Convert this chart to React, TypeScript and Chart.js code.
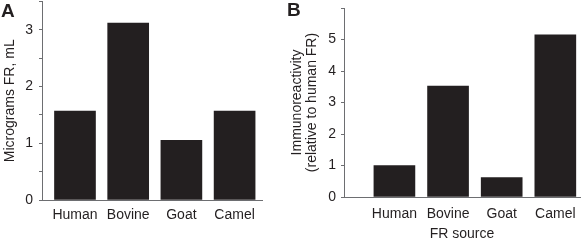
import React, { useEffect, useRef } from 'react';
import { Chart, registerables } from 'chart.js';

Chart.register(...registerables);

const categories = ['Human', 'Bovine', 'Goat', 'Camel'];
const amountA = [1.57, 3.12, 1.05, 1.57];
const immunoB = [1.0, 3.52, 0.62, 5.15];
const yTicksA = [0, 0.5, 1, 1.5, 2, 2.5, 3, 3.5];
const yLabelsA = ['0', '', '1', '', '2', '', '3', ''];
const yTicksB = [0, 1, 2, 3, 4, 5, 6];
const yLabelsB = ['0', '1', '2', '3', '4', '5', ''];

const FONT = "'Liberation Sans', Arial, Helvetica, sans-serif";
const INK = '#231f20';
const AXIS = '#6d6e71';

type PanelOpts = {
  values: number[];
  yTicks: number[];
  yLabels: string[];
  yTitle: string | string[];
  yTitlePadTop: number;
  yTitleLineHeight: number;
  xTitle?: string;
  yWidth: number;
  xHeight: number;
  padTop: number;
  padRight: number;
  xMin: number;
  xMax: number;
  yMax: number;
  yTickPad: number;
  xTickPad: number;
};

function makeConfig(o: PanelOpts): any {
  return {
    type: 'bar',
    data: {
      datasets: [
        {
          data: o.values.map((v, i) => ({ x: i, y: v })),
          backgroundColor: INK,
          borderWidth: 0,
          barThickness: 41,
        },
      ],
    },
    options: {
      animation: false,
      responsive: false,
      devicePixelRatio: 1,
      layout: { padding: { top: o.padTop, right: o.padRight, left: 0, bottom: 0 } },
      plugins: { legend: { display: false }, tooltip: { enabled: false } },
      scales: {
        x: {
          type: 'linear',
          offset: false,
          min: o.xMin,
          max: o.xMax,
          afterBuildTicks: (s: any) => {
            s.ticks = categories.map((_, i) => ({ value: i }));
          },
          afterFit: (s: any) => {
            s.height = o.xHeight;
            s.paddingLeft = 0;
            s.paddingRight = 0;
          },
          grid: { display: false, drawTicks: false, offset: false },
          border: { display: true, color: AXIS, width: 1 },
          ticks: {
            autoSkip: false,
            maxRotation: 0,
            padding: o.xTickPad,
            color: INK,
            font: { family: FONT, size: 14 },
            callback: (v: any) => categories[v] ?? '',
          },
          title: o.xTitle
            ? {
                display: true,
                text: o.xTitle,
                color: INK,
                font: { family: FONT, size: 14, lineHeight: 1 },
                padding: { top: 0, bottom: 0 },
              }
            : { display: false },
        },
        y: {
          type: 'linear',
          min: 0,
          max: o.yMax,
          afterBuildTicks: (s: any) => {
            s.ticks = o.yTicks.map((v) => ({ value: v }));
          },
          afterFit: (s: any) => {
            s.width = o.yWidth;
            s.paddingTop = 0;
            s.paddingBottom = 0;
          },
          grid: {
            display: true,
            drawOnChartArea: false,
            drawTicks: true,
            tickLength: 3,
            tickColor: AXIS,
            color: AXIS,
          },
          border: { display: true, color: AXIS, width: 1 },
          ticks: {
            padding: o.yTickPad,
            color: INK,
            font: { family: FONT, size: 14 },
            callback: (_v: any, i: number) => o.yLabels[i],
          },
          title: {
            display: true,
            text: o.yTitle,
            color: INK,
            font: { family: FONT, size: 14, lineHeight: o.yTitleLineHeight / 14 },
            padding: { top: o.yTitlePadTop, bottom: 0 },
          },
        },
      },
    },
  };
}

function Panel(props: { left: number; width: number; opts: PanelOpts }) {
  const ref = useRef<HTMLCanvasElement | null>(null);
  useEffect(() => {
    if (!ref.current) return;
    const chart = new Chart(ref.current, makeConfig(props.opts));
    return () => chart.destroy();
  }, []);
  return (
    <canvas
      ref={ref}
      width={props.width}
      height={241}
      style={{ position: 'absolute', left: props.left, top: 0, width: props.width, height: 241, display: 'block' }}
    />
  );
}

export default function App() {
  return (
    <div style={{ position: 'absolute', left: 0, top: 0, width: 582, height: 241, background: '#fff', overflow: 'hidden' }}>
      <Panel
        left={0}
        width={290}
        opts={{
          values: amountA,
          yTicks: yTicksA,
          yLabels: yLabelsA,
          yTitle: 'Micrograms FR, mL',
          yTitlePadTop: 2,
          yTitleLineHeight: 16.8,
          yWidth: 42,
          xHeight: 41,
          padTop: 1.5,
          padRight: 28,
          xMin: -0.62,
          xMax: 3.515,
          yMax: 3.5,
          yTickPad: 6,
          xTickPad: 7,
        }}
      />
      <Panel
        left={290}
        width={292}
        opts={{
          values: immunoB,
          yTicks: yTicksB,
          yLabels: yLabelsB,
          yTitle: ['Immunoreactivity', '(relative to human FR)'],
          yTitlePadTop: 0,
          yTitleLineHeight: 15,
          xTitle: 'FR source',
          yWidth: 54,
          xHeight: 44,
          padTop: 8,
          padRight: 2,
          xMin: -0.94,
          xMax: 3.46,
          yMax: 6,
          yTickPad: 5,
          xTickPad: 9,
        }}
      />
      <div style={{ position: 'absolute', left: 1, top: 0, font: `bold 19px ${FONT}`, color: INK, lineHeight: '22px' }}>A</div>
      <div style={{ position: 'absolute', left: 287, top: -1, font: `bold 19px ${FONT}`, color: INK, lineHeight: '22px' }}>B</div>
    </div>
  );
}
